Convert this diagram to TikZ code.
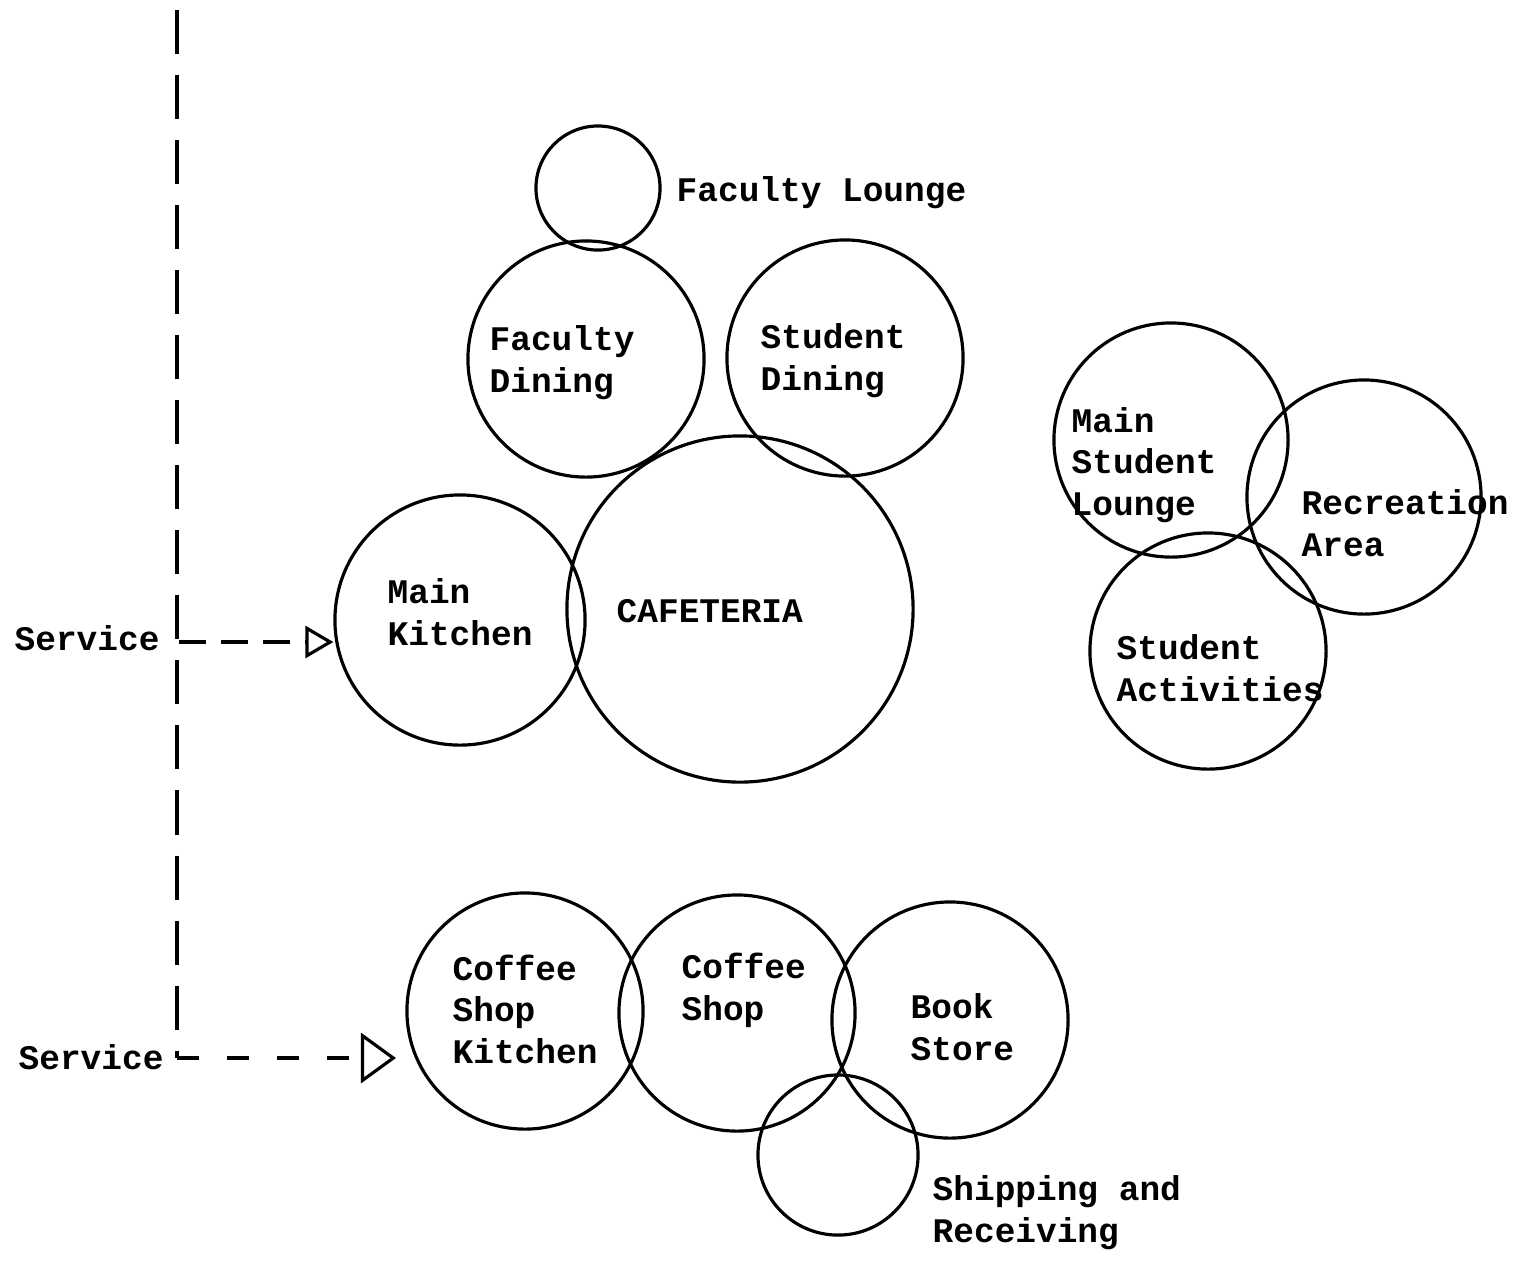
\documentclass[tikz,border=0pt]{standalone}
\usepackage{fontspec}
\setmainfont{Liberation Mono}
\usetikzlibrary{arrows.meta}

\tikzset{
  room/.style={circle, draw, line width=0.9pt, inner sep=0pt, minimum size=#1},
  tag/.style={anchor=base west, align=left, inner sep=0pt},
  vdash/.style={line width=0.9pt, dash pattern=on 0.44cm off 0.21cm},
  hdash/.style={line width=0.9pt, dash pattern=on #1},
}

\begin{document}
\begin{tikzpicture}[x=0.01cm, y=-0.01cm,
    font=\fontsize{9.8pt}{11.8pt}\selectfont\bfseries]
        \useasboundingbox (0,0) rectangle (1525,1262);
        % circles
        \node[room=1.24cm] (lounge)     at (598,188)  {};
        \node[room=2.36cm] (facdining)  at (586,359)  {};
        \node[room=2.36cm] (studining)  at (845,358)  {};
        \node[room=3.46cm] (cafeteria)  at (740,609)  {};
        \node[room=2.50cm] (kitchen)    at (460,620)  {};
        \node[room=2.34cm] (mainlounge) at (1171,440) {};
        \node[room=2.34cm] (recreation) at (1364,497) {};
        \node[room=2.36cm] (activities) at (1208,651) {};
        \node[room=2.36cm] (cskitchen)  at (525,1011) {};
        \node[room=2.36cm] (coffeeshop) at (737,1013) {};
        \node[room=2.36cm] (bookstore)  at (950,1020) {};
        \node[room=1.60cm] (shipping)   at (838,1155) {};
        % labels (base = last line)
        \node[tag] (loungetext)     at (676,201)  {Faculty Lounge};
        \node[tag] (facdiningtext)  at (489,392)  {Faculty\\Dining};
        \node[tag] (studiningtext)  at (760,390)  {Student\\Dining};
        \node[tag] (cafeteriatext)  at (616,622)  {CAFETERIA};
        \node[tag] (kitchentext)    at (387,645)  {Main\\Kitchen};
        \node[tag] (mainloungetext) at (1071,515) {Main\\Student\\Lounge};
        \node[tag] (recreationtext) at (1301,556) {Recreation\\Area};
        \node[tag] (activitiestext) at (1116,701) {Student\\Activities};
        \node[tag] (cskitchentext)  at (452,1063) {Coffee\\Shop\\Kitchen};
        \node[tag] (coffeeshoptext) at (681,1020) {Coffee\\Shop};
        \node[tag] (bookstoretext)  at (910,1060) {Book\\Store};
        \node[tag] (shippingtext)   at (932,1242) {Shipping and\\Receiving};
        \node[tag] (service1)       at (14,650)   {Service};
        \node[tag] (service2)       at (18,1069)  {Service};
        % service lines
        \coordinate (top) at (177,10);
        \coordinate (branch) at (179,642);
        \coordinate (corner) at (177,1058);
        \coordinate (shopend) at (396,1058);
        \draw[vdash] (top) -- (corner);
        \draw[hdash={0.27cm off 0.15cm},
              -{Triangle[open, length=0.28cm, width=0.32cm]}]
              (branch) -- (kitchen.west |- branch);
        \draw[hdash={0.22cm off 0.28cm},
              -{Triangle[open, length=0.35cm, width=0.50cm]}]
              (corner) -- (shopend);
    \end{tikzpicture}
\end{document}
